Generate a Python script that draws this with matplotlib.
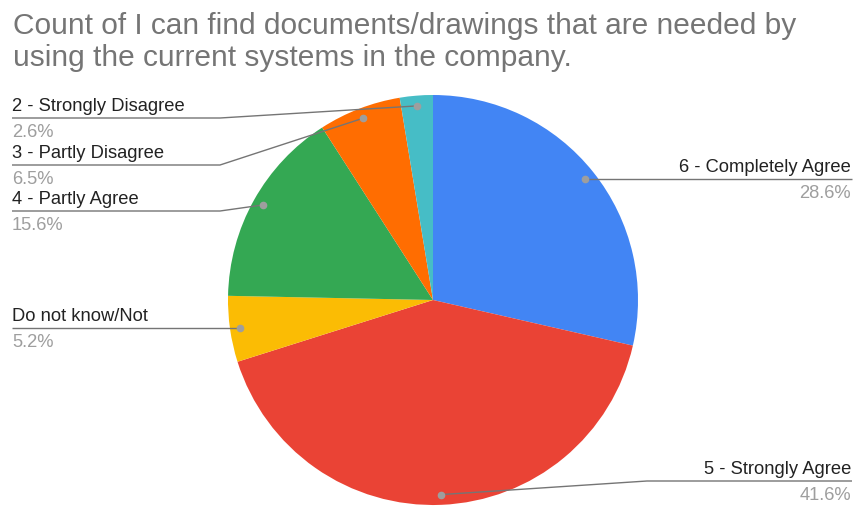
import matplotlib
matplotlib.use("Agg")
import matplotlib.pyplot as plt
import numpy as np

plt.rcParams["font.family"] = ["Liberation Sans", "DejaVu Sans"]

title_lines = [
    "Count of I can find documents/drawings that are needed by",
    "using the current systems in the company.",
]

categories = [
    "6 - Completely Agree",
    "5 - Strongly Agree",
    "Do not know/Not",
    "4 - Partly Agree",
    "3 - Partly Disagree",
    "2 - Strongly Disagree",
]
counts = [22, 32, 4, 12, 5, 2]
colors = ["#4285F4", "#EA4335", "#FBBC04", "#34A853", "#FF6D01", "#46BDC6"]

# label layout in pixel space: (text anchor x, underline y, knee x, alignment)
label_layout = {
    "6 - Completely Agree": (851, 179, None, "right"),
    "5 - Strongly Agree": (851, 481, 647, "right"),
    "Do not know/Not": (12, 328, None, "left"),
    "4 - Partly Agree": (12, 211, 220, "left"),
    "3 - Partly Disagree": (12, 165, 220, "left"),
    "2 - Strongly Disagree": (12, 118, 220, "left"),
}

W, H = 857, 507
CX, CY, R = 433, 300, 205

fig = plt.figure(figsize=(W / 100, H / 100), dpi=100)
ax = fig.add_axes([0, 0, 1, 1])

wedges, _ = ax.pie(
    counts,
    colors=colors,
    startangle=90,
    counterclock=False,
    center=(CX, H - CY),
    radius=R,
    wedgeprops=dict(linewidth=0),
)
ax.set_xlim(0, W)
ax.set_ylim(0, H)
ax.set_aspect("equal")
ax.axis("off")

for i, line in enumerate(title_lines):
    fig.text(13 / W, 1 - (34 + 32 * i) / H, line, fontsize=21.5,
             color="#757575", ha="left", va="baseline")

total = sum(counts)
line_c = "#757575"
for wedge, name, n in zip(wedges, categories, counts):
    mid = np.deg2rad((wedge.theta1 + wedge.theta2) / 2)
    px = CX + 0.95 * R * np.cos(mid)
    py = (H - CY) + 0.95 * R * np.sin(mid)
    tx, uy, knee, ha = label_layout[name]
    uy = H - uy
    x0 = tx if ha == "left" else tx + 1
    xs = [x0, knee if knee else px, px]
    ys = [uy, uy, py]
    ax.plot(xs, ys, color=line_c, lw=1, solid_capstyle="butt", zorder=3)
    ax.plot(px, py, "o", ms=4.5, color="#9E9E9E", mec="#9E9E9E", zorder=4)
    ax.text(tx, uy + 7, name, fontsize=13.2, color="#222222", ha=ha, va="baseline")
    ax.text(tx, uy - 19, f"{100 * n / total:.1f}%", fontsize=13.2, color="#9E9E9E",
            ha=ha, va="baseline")

fig.savefig("out.png", dpi=100, facecolor="white")
